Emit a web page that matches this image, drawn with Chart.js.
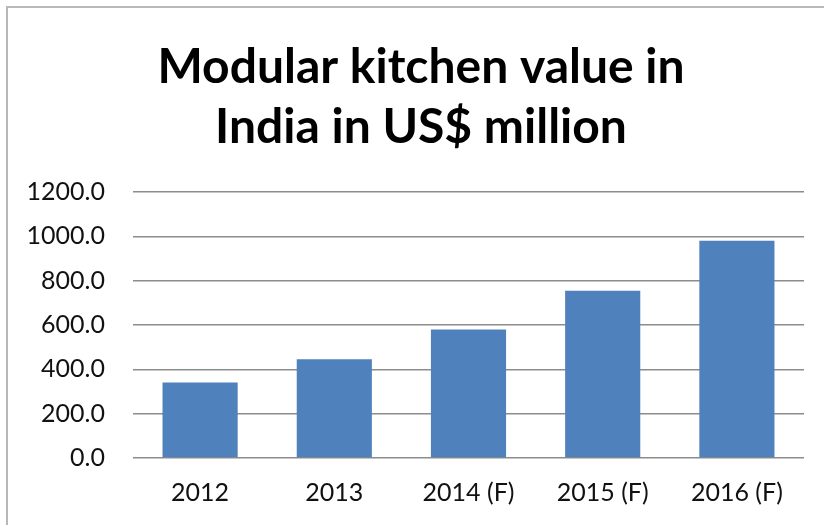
<!DOCTYPE html>
<html>
<head>
<meta charset="utf-8">
<script src="https://cdn.jsdelivr.net/npm/chart.js@4/dist/chart.umd.min.js"></script>
<style>
html,body{margin:0;padding:0;background:#fff;}
#wrap{position:absolute;left:0;top:0;width:824px;height:525px;}
#frame{position:absolute;left:6px;top:6px;width:830px;height:530px;border-left:2px solid #b8b8b8;border-top:2px solid #b8b8b8;box-sizing:border-box;}
canvas{position:absolute;left:0;top:0;}
</style>
</head>
<body>
<div id="wrap">
<div id="frame"></div>
<canvas id="c" width="824" height="525"></canvas>
</div>
<script>
const categories = ["2012", "2013", "2014 (F)", "2015 (F)", "2016 (F)"];
const values = [341, 445, 580, 755, 980];
const titleLines = ["Modular kitchen value in", "India in US$ million"];

const ctx = document.getElementById('c').getContext('2d');
new Chart(ctx, {
  type: 'bar',
  data: {
    labels: categories,
    datasets: [{
      data: values,
      yAxisID: 'y',
      backgroundColor: '#4F81BD',
      borderWidth: 0,
      categoryPercentage: 0.56,
      barPercentage: 1.0
    }]
  },
  options: {
    responsive: false,
    animation: false,
    events: [],
    layout: { padding: { left: 18, right: 0, top: 38, bottom: 0 } },
    plugins: {
      legend: { display: false },
      tooltip: { enabled: false },
      title: {
        display: true,
        text: titleLines,
        color: '#000',
        font: { family: 'Lato', size: 48, weight: 'bold', lineHeight: 1.25 },
        padding: { top: 0, bottom: 34 }
      }
    },
    scales: {
      x: {
        grid: { display: false, drawTicks: false },
        border: { display: false },
        ticks: { color: '#111', font: { family: 'Lato', size: 25 }, padding: 20 },
        afterFit: (s) => { s.height = 67; }
      },
      y: {
        min: 0, max: 1200,
        grid: { color: '#8c8c8c', lineWidth: 1.5, drawTicks: false },
        border: { display: false },
        ticks: {
          stepSize: 200,
          color: '#111',
          font: { family: 'Lato', size: 25 },
          padding: 28,
          callback: (v) => Number(v).toFixed(1)
        },
        afterFit: (s) => { s.width = 115; }
      },
      yR: {
        position: 'right',
        display: true,
        grid: { display: false, drawTicks: false },
        border: { display: false },
        ticks: { display: false },
        afterFit: (s) => { s.width = 20; }
      }
    }
  }
});
</script>
</body>
</html>
